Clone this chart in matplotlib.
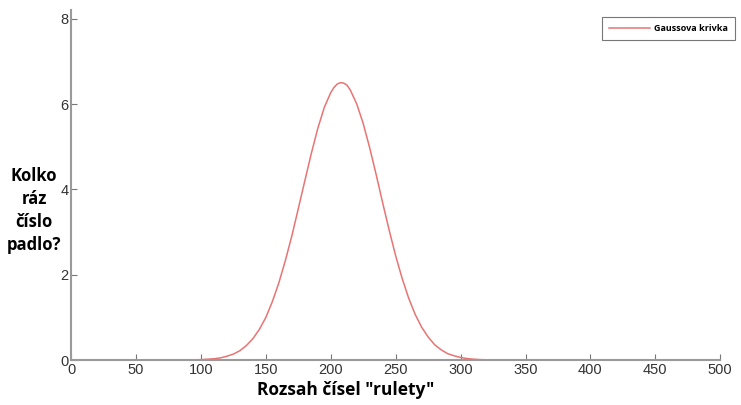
import matplotlib.pyplot as plt

# hodnoty odčítané z obrázka
x_vals = [0, 50, 90, 95, 100, 105, 110, 115, 120, 125, 130, 135, 140, 145, 150, 155, 160, 165,
          170, 175, 180, 185, 190, 195, 200, 202.5, 205, 207.5, 210, 212.5, 215, 220, 225, 230,
          235, 240, 245, 250, 255, 260, 265, 270, 275, 280, 285, 290, 295, 300, 305, 310, 315,
          320, 330, 400, 500]
y_vals = [0, 0, 0, 0.005, 0.01, 0.02, 0.03, 0.05, 0.09, 0.14, 0.22, 0.34, 0.50, 0.72, 1.00, 1.37,
          1.81, 2.33, 2.91, 3.55, 4.20, 4.84, 5.43, 5.92, 6.27, 6.39, 6.47, 6.50, 6.49, 6.44, 6.33,
          6.00, 5.54, 4.97, 4.34, 3.68, 3.04, 2.44, 1.91, 1.45, 1.07, 0.77, 0.54, 0.36, 0.24, 0.15,
          0.10, 0.06, 0.035, 0.02, 0.01, 0.005, 0, 0, 0]
x_ticks = [0, 50, 100, 150, 200, 250, 300, 350, 400, 450, 500]
y_ticks = [0, 2, 4, 6, 8]

fig = plt.figure(figsize=(7.41, 4.05), dpi=100)
ax = fig.add_axes([0.096, 0.111, 0.876, 0.864])

ax.plot(x_vals, y_vals, color='#e87474', lw=1.1, label='Gaussova krivka')

ax.set_xlim(0, 500)
ax.set_ylim(0, 8.2)
ax.set_xticks(x_ticks)
ax.set_yticks(y_ticks)
ax.spines['top'].set_visible(False)
ax.spines['right'].set_visible(False)
for s in ['left', 'bottom']:
    ax.spines[s].set_color('#9a9a9a')
    ax.spines[s].set_linewidth(1.5)
ax.tick_params(direction='in', length=4, color='#777777', labelsize=10.5, labelcolor='#333333', pad=2)
for lbl in ax.get_xticklabels() + ax.get_yticklabels():
    lbl.set_family('Liberation Sans')

# popisky osí
fig.text(0.046, 0.48, 'Kolko\nráz\nčíslo\npadlo?', ha='center', va='center', fontsize=12,
         fontweight='bold', family='Open Sans', linespacing=1.35)
fig.text(0.466, 0.037, 'Rozsah čísel "rulety"', ha='center', va='center', fontsize=12.5,
         fontweight='bold', family='Open Sans')

leg = fig.legend(loc='upper left', bbox_to_anchor=(0.812, 0.958),
                 prop={'family': 'Open Sans', 'weight': 'bold', 'size': 6.5},
                 fancybox=False, edgecolor='#555555', handlelength=4.6, handletextpad=0.4,
                 borderpad=0.8, borderaxespad=0)
leg.get_frame().set_linewidth(0.8)

fig.savefig('out.png', dpi=100)
